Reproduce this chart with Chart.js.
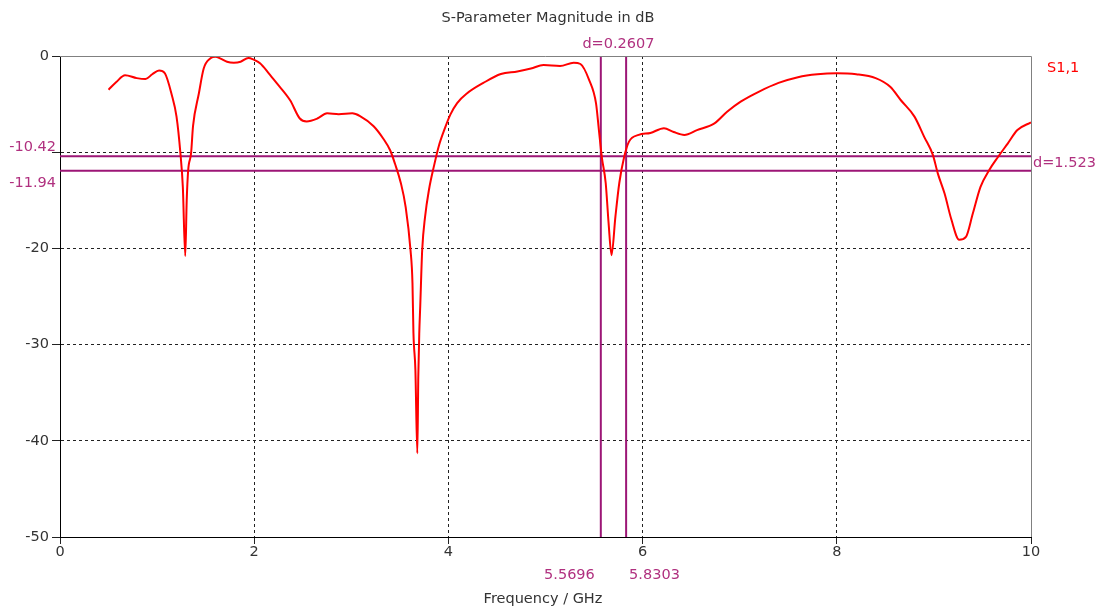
<!DOCTYPE html>
<html>
<head>
<meta charset="utf-8">
<script src="https://cdn.jsdelivr.net/npm/chart.js@4"></script>
<style>
  html, body { margin: 0; padding: 0; background: #fff; }
  #wrap { width: 1103px; height: 612px; }
</style>
</head>
<body>
<div id="wrap"><canvas id="sparam"></canvas></div>
<script>
// S1,1 trace (GHz, dB)
const freq = [
  0.50, 0.58, 0.67, 0.79, 0.88, 0.95, 1.02, 1.08, 1.15, 1.20,
  1.24, 1.265, 1.29, 1.305, 1.32, 1.35, 1.37, 1.43, 1.48, 1.55,
  1.60, 1.66, 1.72, 1.79, 1.86, 1.94, 1.99, 2.06, 2.15, 2.23,
  2.37, 2.47, 2.54, 2.65, 2.75, 2.87, 3.01, 3.09, 3.23, 3.33,
  3.40, 3.45, 3.51, 3.56, 3.61, 3.63, 3.64, 3.66, 3.68, 3.69,
  3.70, 3.71, 3.73, 3.76, 3.80, 3.85, 3.90, 3.97, 4.02, 4.09,
  4.19, 4.36, 4.54, 4.71, 4.85, 4.98, 5.15, 5.29, 5.36, 5.45,
  5.52, 5.55, 5.58, 5.62, 5.65, 5.68, 5.72, 5.76, 5.81, 5.86,
  5.96, 6.08, 6.22, 6.32, 6.43, 6.56, 6.74, 6.87, 7.01, 7.20,
  7.40, 7.60, 7.80, 8.00, 8.20, 8.40, 8.55, 8.66, 8.80, 8.90,
  8.99, 9.04, 9.11, 9.18, 9.26, 9.33, 9.40, 9.48, 9.57, 9.66,
  9.76, 9.86, 10.0
];
const s11 = [
  -3.5, -2.7, -2.0, -2.3, -2.4, -1.9, -1.5, -1.8, -4.0, -6.3,
  -10.1, -13.6, -20.8, -15.0, -11.9, -10.1, -7.3, -3.9, -1.3, -0.24,
  -0.07, -0.3, -0.6, -0.7, -0.6, -0.2, -0.35, -0.76, -1.8, -2.8,
  -4.6, -6.5, -6.8, -6.5, -5.96, -6.06, -5.96, -6.24, -7.3, -8.6,
  -9.8, -11.2, -13.2, -15.7, -20.2, -23.6, -28.8, -32.6, -41.3, -33.3,
  -28.8, -26.0, -20.2, -16.7, -13.9, -11.5, -9.4, -7.35, -6.1, -4.9,
  -3.9, -2.8, -1.87, -1.6, -1.3, -0.94, -1.04, -0.69, -0.83, -2.5,
  -4.9, -7.7, -10.5, -13.2, -17.4, -20.7, -16.7, -13.2, -10.5, -8.9,
  -8.2, -8.0, -7.5, -7.9, -8.2, -7.7, -7.0, -5.8, -4.75, -3.7,
  -2.8, -2.2, -1.9, -1.8, -1.9, -2.3, -3.2, -4.6, -6.3, -8.4,
  -10.3, -12.2, -14.3, -17.0, -19.1, -18.8, -16.4, -13.6, -11.85, -10.5,
  -9.1, -7.7, -6.9
];

// markers
const markerFreqs = [5.5696, 5.8303];
const markerLevels = [-10.42, -11.94];
const freqDelta = '0.2607';
const levelDelta = '1.523';

const xTicks = [0, 2, 4, 6, 8, 10];
const yTicks = [0, -10, -20, -30, -40, -50];

const RED = '#ff0000';
const MARK = '#9c1676';
const MARK_TXT = '#b0307f';
const FONT = '"DejaVu Sans", sans-serif';
const FSIZE = 14.5;

const markerSets = [];
markerFreqs.forEach(f => markerSets.push({
  data: [{ x: f, y: -50 }, { x: f, y: 0 }],
  borderColor: MARK, borderWidth: 2, pointRadius: 0, order: 2
}));
markerLevels.forEach(l => markerSets.push({
  data: [{ x: 0, y: l }, { x: 10, y: l }],
  borderColor: MARK, borderWidth: 2, pointRadius: 0, order: 2
}));

const frameAndLabels = {
  id: 'frameAndLabels',
  afterDraw(chart) {
    const { ctx, chartArea: a, scales: { x, y } } = chart;
    ctx.save();
    // top / right frame
    ctx.strokeStyle = '#808080';
    ctx.lineWidth = 1;
    ctx.beginPath();
    ctx.moveTo(a.left, a.top + 0.5);
    ctx.lineTo(a.right + 0.5, a.top + 0.5);
    ctx.lineTo(a.right + 0.5, a.bottom);
    ctx.stroke();

    ctx.font = FSIZE + 'px ' + FONT;
    ctx.textBaseline = 'middle';

    ctx.fillStyle = '#333';
    ctx.textAlign = 'center';
    ctx.fillText('S-Parameter Magnitude in dB', 548, 18);
    ctx.fillText('Frequency / GHz', 543, 599);

    ctx.fillStyle = RED;
    ctx.textAlign = 'left';
    ctx.fillText('S1,1', a.right + 16, 68);

    ctx.fillStyle = MARK_TXT;
    const x1 = x.getPixelForValue(markerFreqs[0]);
    const x2 = x.getPixelForValue(markerFreqs[1]);
    ctx.textAlign = 'right';
    ctx.fillText(markerFreqs[0].toFixed(4), x1 - 6, 575);
    ctx.textAlign = 'left';
    ctx.fillText(markerFreqs[1].toFixed(4), x2 + 3, 575);
    ctx.textAlign = 'center';
    ctx.fillText('d=' + freqDelta, (x1 + x2) / 2 + 5, 44);

    const y1 = y.getPixelForValue(markerLevels[0]);
    const y2 = y.getPixelForValue(markerLevels[1]);
    ctx.textAlign = 'right';
    ctx.fillText(markerLevels[0].toFixed(2), a.left - 4, y1 - 9);
    ctx.fillText(markerLevels[1].toFixed(2), a.left - 4, y2 + 12);
    ctx.textAlign = 'left';
    ctx.fillText('d=' + levelDelta, a.right + 2, (y1 + y2) / 2);
    ctx.restore();
  }
};

new Chart(document.getElementById('sparam'), {
  type: 'line',
  data: {
    datasets: [
      {
        label: 'S1,1',
        data: freq.map((f, i) => ({ x: f, y: s11[i] })),
        borderColor: RED,
        borderWidth: 2,
        pointRadius: 0,
        tension: 0.3,
        cubicInterpolationMode: 'monotone',
        order: 1
      },
      ...markerSets
    ]
  },
  options: {
    responsive: true,
    maintainAspectRatio: false,
    animation: false,
    layout: { padding: { top: 56, right: 72, left: 0, bottom: 0 } },
    plugins: { legend: { display: false }, title: { display: false }, tooltip: { enabled: false } },
    scales: {
      x: {
        type: 'linear', min: 0, max: 10,
        afterFit: s => { s.height = 75; },
        afterBuildTicks: s => { s.ticks = xTicks.map(v => ({ value: v })); },
        ticks: { color: '#333', font: { family: FONT, size: FSIZE }, padding: 0, maxRotation: 0 },
        grid: {
          color: c => (c.tick && (c.tick.value === 0 || c.tick.value === 10)) ? 'rgba(0,0,0,0)' : '#222',
          tickColor: '#222', tickLength: 7, lineWidth: 1
        },
        border: { color: '#000', width: 1, dash: [3, 3] }
      },
      y: {
        type: 'linear', min: -50, max: 0,
        afterFit: s => { s.width = 60; },
        afterBuildTicks: s => { s.ticks = yTicks.map(v => ({ value: v })); },
        ticks: {
          color: '#333', font: { family: FONT, size: FSIZE }, padding: 3,
          callback: v => v === -10 ? '' : v
        },
        grid: {
          color: c => (c.tick && (c.tick.value === 0 || c.tick.value === -50)) ? 'rgba(0,0,0,0)' : '#222',
          tickColor: '#222', tickLength: 8, lineWidth: 1
        },
        border: { color: '#000', width: 1, dash: [3, 3] }
      }
    }
  },
  plugins: [frameAndLabels]
});
</script>
</body>
</html>
